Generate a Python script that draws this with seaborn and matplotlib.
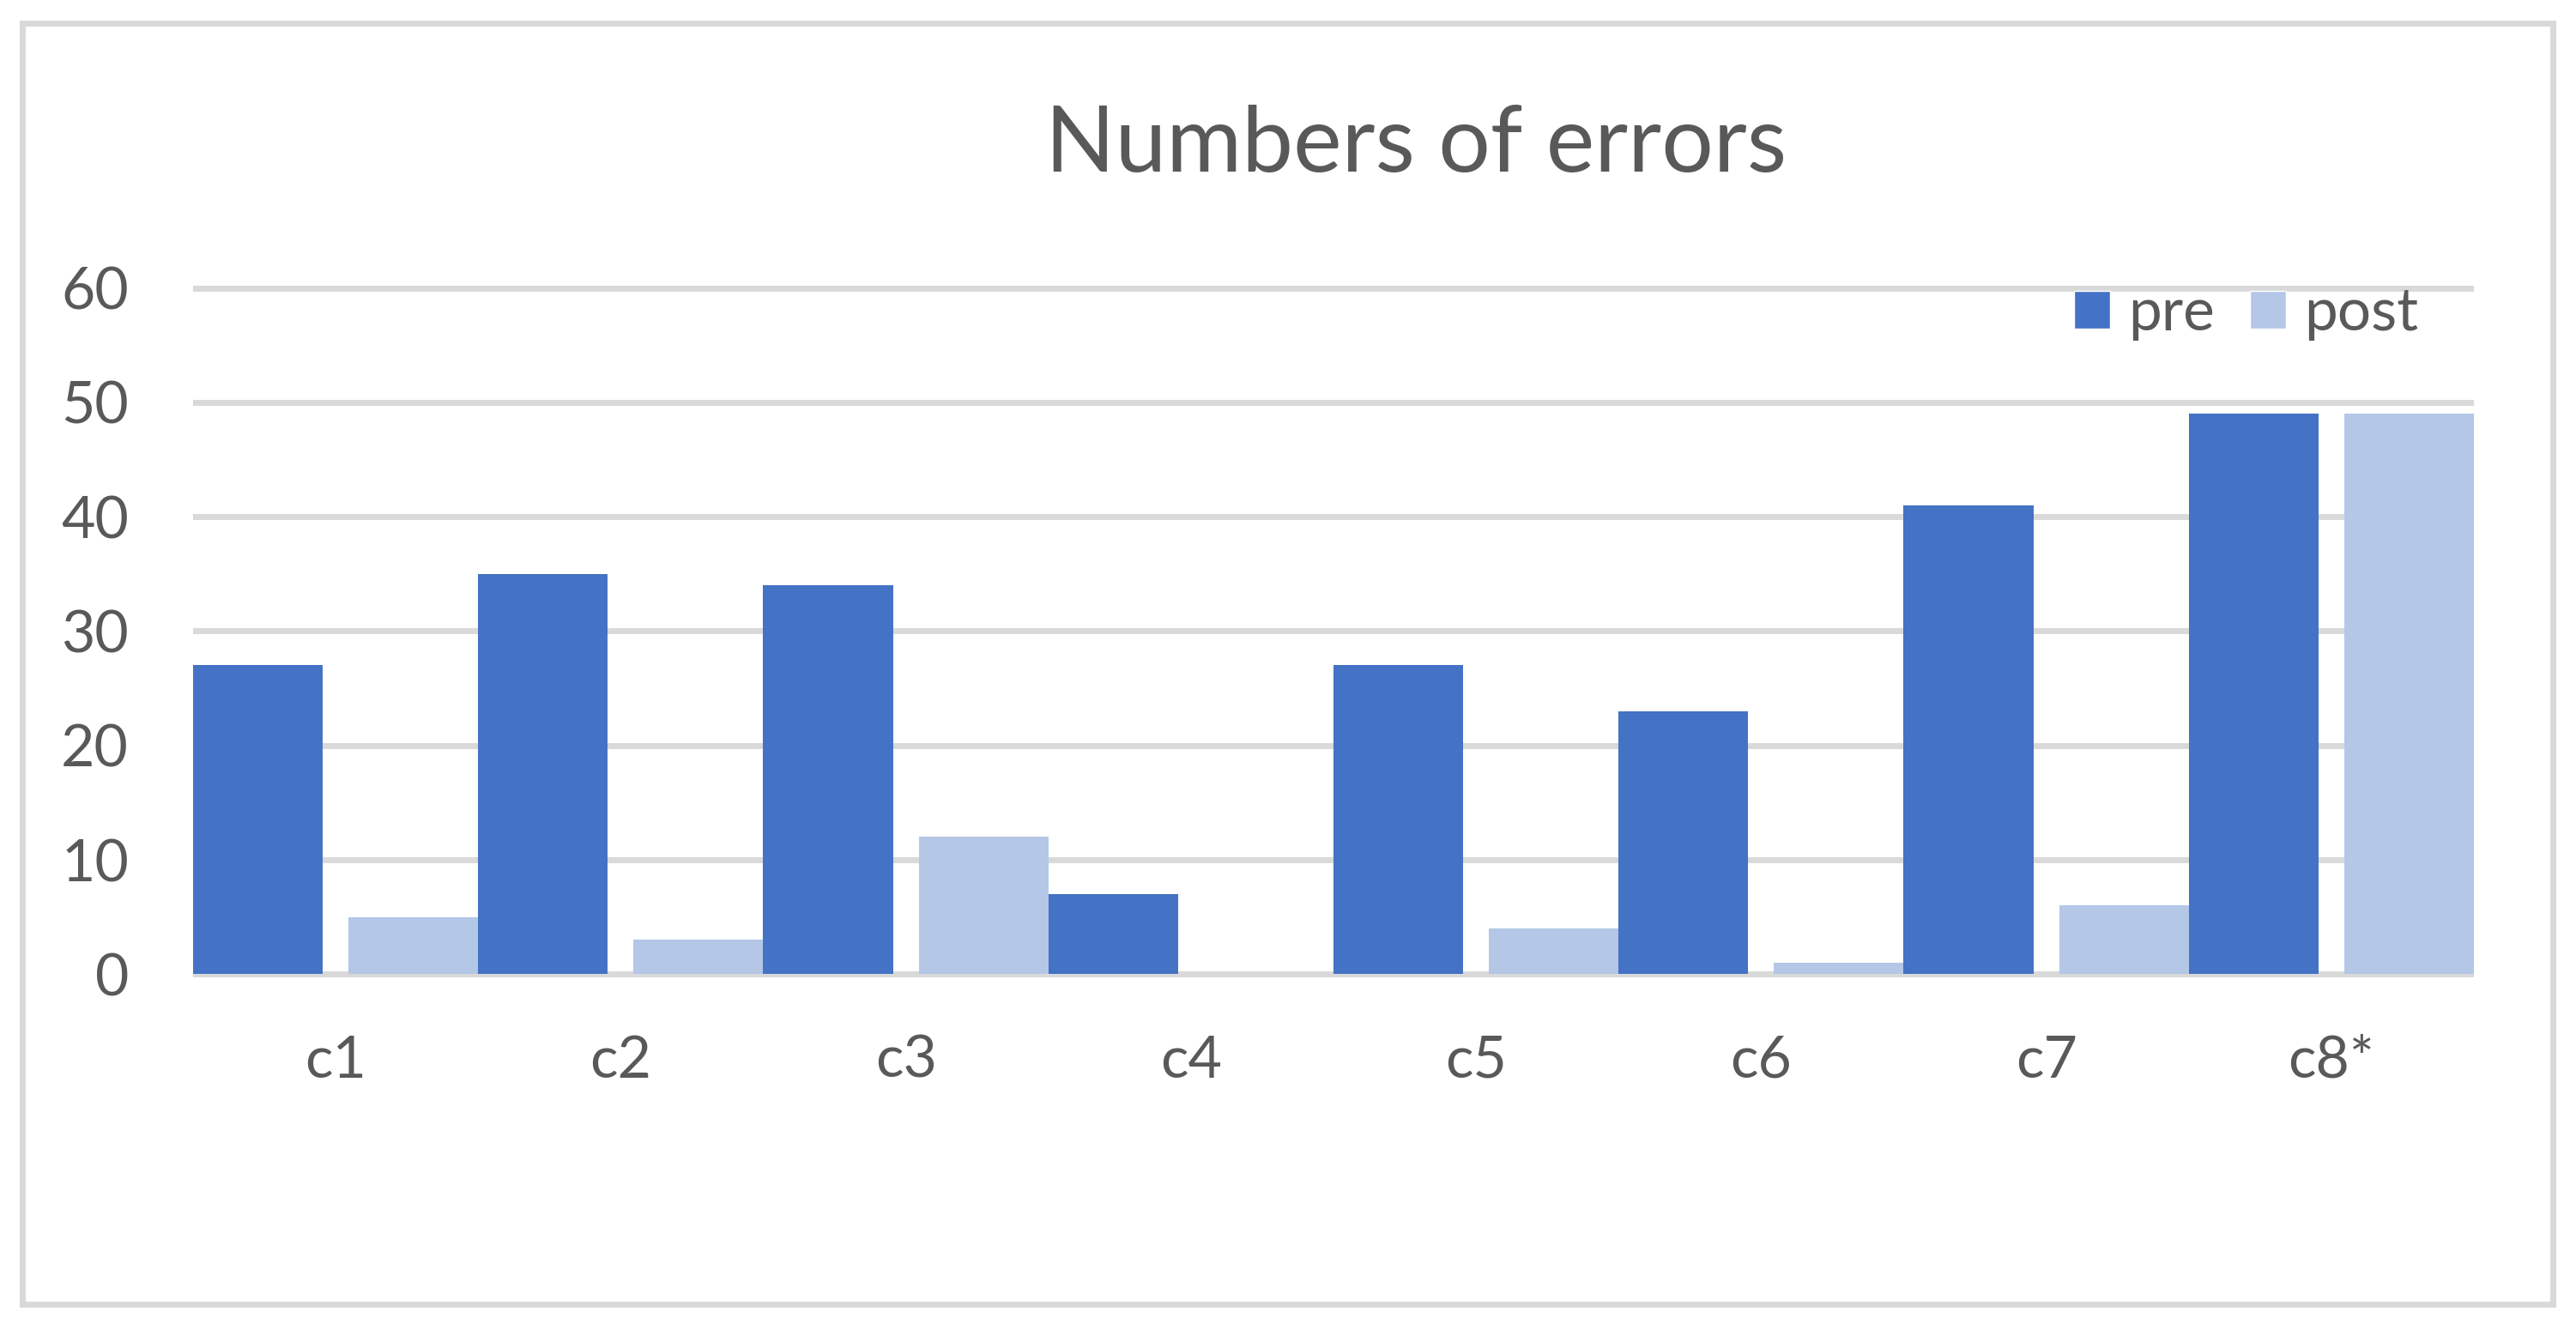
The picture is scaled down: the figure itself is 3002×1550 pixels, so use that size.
import pandas as pd
import matplotlib
matplotlib.use("Agg")
import matplotlib.pyplot as plt
from matplotlib.patches import Rectangle
import seaborn as sns

# -------------------- DATA --------------------
categories = ["c1", "c2", "c3", "c4", "c5", "c6", "c7", "c8*"]
pre_values = [27, 35, 34, 7, 27, 23, 41, 49]
post_values = [5, 3, 12, 0, 4, 1, 6, 49]
series_names = ["pre", "post"]
y_ticks = [0, 10, 20, 30, 40, 50, 60]

PRE_COLOR = "#4472C4"
POST_COLOR = "#B4C7E7"
TEXT_COLOR = "#595959"
GRID_COLOR = "#D9D9D9"

df = pd.DataFrame({
    "category": categories * 2,
    "phase": ["pre"] * len(categories) + ["post"] * len(categories),
    "errors": pre_values + post_values,
})

# -------------------- STYLE --------------------
sns.set_theme(style="white")
plt.rcParams["font.family"] = ["Lato", "DejaVu Sans"]

fig = plt.figure(figsize=(30.02, 15.5), dpi=100)
ax = fig.add_axes([0.07495, 0.2632, 0.8854, 0.5289])

sns.barplot(
    data=df, x="category", y="errors", hue="phase",
    hue_order=series_names, order=categories,
    palette=[PRE_COLOR, POST_COLOR],
    width=1.0, gap=0, errorbar=None, saturation=1, ax=ax,
)

# Excel-style spacing: gap between pre/post inside a group, none between groups
shrink = 0.91
for i, container in enumerate(ax.containers):
    for bar in container:
        w = bar.get_width()
        new_w = w * shrink
        if i == 1:
            bar.set_x(bar.get_x() + (w - new_w))
        bar.set_width(new_w)
        bar.set_linewidth(0)

ax.set_xlim(-0.5, len(categories) - 0.5)
ax.set_ylim(-0.5, 61)
ax.set_yticks(y_ticks)
ax.set_yticklabels([str(t) for t in y_ticks])
ax.set_xlabel("")
ax.set_ylabel("")

ax.yaxis.grid(True, color=GRID_COLOR, linewidth=5)
ax.xaxis.grid(False)
ax.set_axisbelow(True)
for s in ax.spines.values():
    s.set_visible(False)

ax.tick_params(axis="y", length=0, pad=54, labelsize=49, labelcolor=TEXT_COLOR)
ax.tick_params(axis="x", length=0, pad=46, labelsize=49, labelcolor=TEXT_COLOR)

# -------------------- LEGEND --------------------
handles, labels = ax.get_legend_handles_labels()
ax.legend(
    handles, labels, ncol=2, frameon=False,
    loc="center right", bbox_to_anchor=(0.9755, 0.9467),
    borderaxespad=0, borderpad=0,
    fontsize=50, labelcolor=TEXT_COLOR,
    handlelength=0.6, handleheight=0.6,
    handletextpad=0.3, columnspacing=0.6,
)

# -------------------- TITLE & FRAME --------------------
fig.text(0.5496, 0.871, "Numbers of errors", ha="center", va="baseline",
         fontsize=77, color=TEXT_COLOR)

fig.patches.append(Rectangle(
    (25.5 / 3002, 1 - 1519.5 / 1550),
    (2974.5 - 25.5) / 3002, (1519.5 - 26.5) / 1550,
    transform=fig.transFigure, fill=False,
    edgecolor=GRID_COLOR, linewidth=5,
))

fig.savefig("out.png", dpi=100, facecolor="white")
